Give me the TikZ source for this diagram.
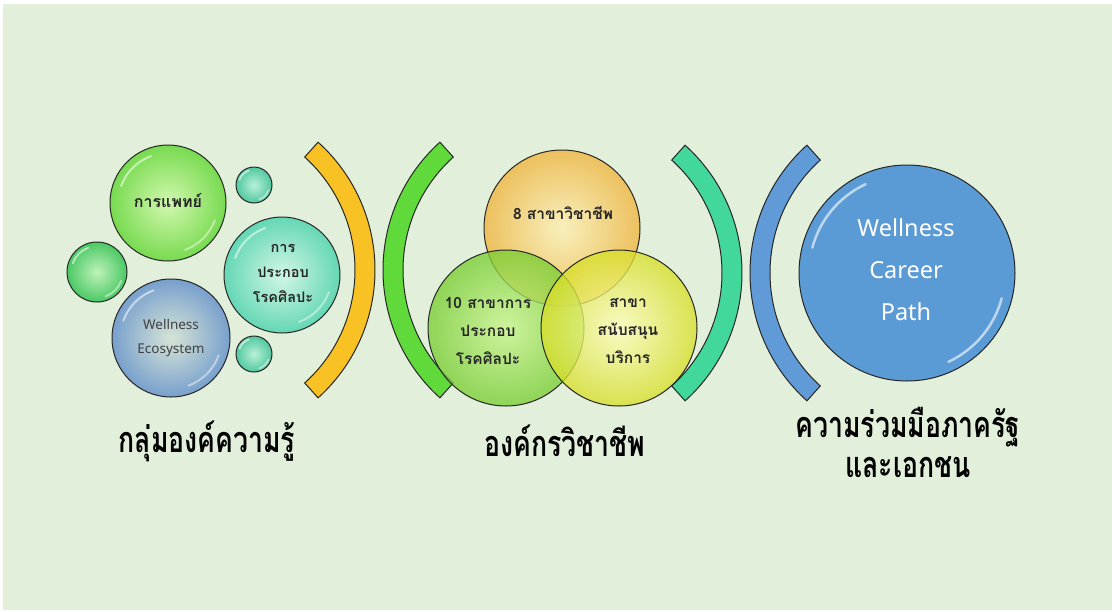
\documentclass[tikz,border=0pt]{standalone}
\usepackage{fontspec}
\usetikzlibrary{calc}
\newfontfamily\thai[Script=Thai]{Loma}
\newfontfamily\thaicond[Script=Thai,FakeStretch=0.74]{Loma}
\newfontfamily\latin{Noto Sans}
\definecolor{bg}{RGB}{226,239,218}
\begin{document}
\begin{tikzpicture}[x=1pt,y=-1pt,
  bubble/.style={circle,draw=black!85,line width=1pt,inner sep=0pt,minimum size=#1},
  venn/.style={circle,draw=black!85,line width=1pt,inner sep=0pt,minimum size=156pt,fill opacity=0.78},
  band/.style={draw=black!85,line width=1pt},
  txt/.style={font=\thai\bfseries\fontsize{14.5}{25}\selectfont,align=center,text=black!85},
  vtxt/.style={font=\thai\bfseries\fontsize{15.5}{28}\selectfont,align=center,text=black!85},
  lbl/.style={font=\thaicond\bfseries\fontsize{36}{40}\selectfont,align=center,text=black}]
\useasboundingbox (0,0) rectangle (1112,611);
\fill[white] (0,0) rectangle (1112,611);
\fill[bg] (3,4) rectangle (1112,610);

% ---- panel 1 bubbles
\node[bubble=116pt,inner color={rgb,255:red,210;green,248;blue,175},outer color={rgb,255:red,120;green,218;blue,80}] (med) at (168,203) {};
\node[bubble=36pt,inner color={rgb,255:red,185;green,240;blue,215},outer color={rgb,255:red,80;green,200;blue,160}] (s1) at (254,185) {};
\node[bubble=60pt,inner color={rgb,255:red,190;green,242;blue,185},outer color={rgb,255:red,75;green,200;blue,100}] (s2) at (97,272) {};
\node[bubble=116pt,inner color={rgb,255:red,210;green,246;blue,230},outer color={rgb,255:red,100;green,215;blue,180}] (art) at (282,275) {};
\node[bubble=118pt,inner color={rgb,255:red,214;green,228;blue,214},outer color={rgb,255:red,120;green,160;blue,205}] (eco) at (171,338) {};
\node[bubble=36pt,inner color={rgb,255:red,185;green,240;blue,215},outer color={rgb,255:red,80;green,200;blue,160}] (s3) at (254,354) {};
\foreach \c/\r in {med/58,art/58,eco/59,s2/30,s1/18,s3/18}{
  \draw[white,opacity=0.55,line width=2pt,line cap=round] ($(\c)+(200:{\r*0.86})$) arc[start angle=200,end angle=250,radius={\r*0.86}];
  \draw[white,opacity=0.45,line width=2pt,line cap=round] ($(\c)+(20:{\r*0.86})$) arc[start angle=20,end angle=70,radius={\r*0.86}];
}
\node[txt,font=\thai\bfseries\fontsize{16}{25}\selectfont] (tmed) at (168,201) {การแพทย์};
\node[txt] (tart) at (283,273) {การ\\ประกอบ\\โรคศิลปะ};
\node[font=\latin\fontsize{13.5}{24}\selectfont,align=center,text=black!75] (teco) at (171,338) {Wellness\\Ecosystem};

% ---- arcs (brackets)
\coordinate (c1) at (203,270);
\coordinate (c2) at (555,270);
\coordinate (c3) at (570,273);
\coordinate (c4) at (922,273);
\draw[band,fill={rgb,255:red,248;green,193;blue,36}] ($(c1)+(-48:172)$) arc[start angle=-48,end angle=48,radius=172] -- ($(c1)+(48:152)$) arc[start angle=48,end angle=-48,radius=152] -- cycle;
\draw[band,fill={rgb,255:red,96;green,218;blue,58}] ($(c2)+(132:172)$) arc[start angle=132,end angle=228,radius=172] -- ($(c2)+(228:152)$) arc[start angle=228,end angle=132,radius=152] -- cycle;
\draw[band,fill={rgb,255:red,66;green,216;blue,155}] ($(c3)+(-48:172)$) arc[start angle=-48,end angle=48,radius=172] -- ($(c3)+(48:152)$) arc[start angle=48,end angle=-48,radius=152] -- cycle;
\draw[band,fill={rgb,255:red,96;green,155;blue,215}] ($(c4)+(132:172)$) arc[start angle=132,end angle=228,radius=172] -- ($(c4)+(228:152)$) arc[start angle=228,end angle=132,radius=152] -- cycle;

% ---- Venn
\node[venn,inner color={rgb,255:red,255;green,240;blue,180},outer color={rgb,255:red,240;green,180;blue,60}] (v1) at (562,228) {};
\node[venn,inner color={rgb,255:red,200;green,245;blue,140},outer color={rgb,255:red,120;green,205;blue,50}] (v2) at (506,328) {};
\node[venn,inner color={rgb,255:red,255;green,255;blue,190},outer color={rgb,255:red,215;green,222;blue,40}] (v3) at (619,328) {};
\node[vtxt] (tv1) at (563,213) {8 สาขาวิชาชีพ};
\node[vtxt] (tv2) at (488,331) {10 สาขาการ\\ประกอบ\\โรคศิลปะ};
\node[vtxt] (tv3) at (628,331) {สาขา\\สนับสนุน\\บริการ};

% ---- big blue
\node[bubble=216pt,fill={rgb,255:red,91;green,155;blue,213}] (path) at (907,273) {};
\draw[white,opacity=0.6,line width=2.5pt,line cap=round] ($(path)+(195:98)$) arc[start angle=195,end angle=245,radius=98];
\draw[white,opacity=0.6,line width=2.5pt,line cap=round] ($(path)+(15:98)$) arc[start angle=15,end angle=65,radius=98];
\node[font=\latin\fontsize{23.5}{42}\selectfont,align=center,text=white] (tpath) at (906,270) {Wellness\\Career\\Path};

% ---- labels
\node[lbl] (l1) at (207,441) {กลุ่มองค์ความรู้};
\node[lbl] (l2) at (565,441) {องค์กรวิชาชีพ};
\node[lbl] (l3) at (908,442) {ความร่วมมือภาครัฐ\\และเอกชน};
\end{tikzpicture}
\end{document}
